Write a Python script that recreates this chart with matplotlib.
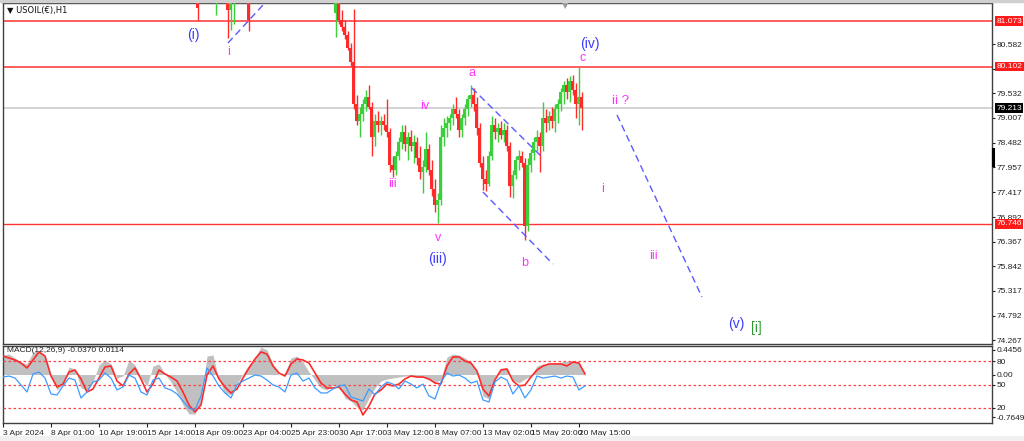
import matplotlib
matplotlib.use("Agg")
import matplotlib.pyplot as plt
import matplotlib.transforms as mtransforms
import numpy as np

plt.rcParams["font.family"] = ["Liberation Sans", "DejaVu Sans"]

# ---- price candles (bar index: one step = one candle slot on screen) ----
bar_idx = [65, 71, 75, 76, 77, 82] + list(range(111, 194))
opens = [81.60, 81.75, 81.60, 81.30, 81.65, 81.45,
         81.25, 81.45, 81.10, 80.95, 80.78, 80.50, 80.20, 79.30, 78.95, 79.10,
         79.30, 79.45, 79.25, 78.60, 78.95, 78.85, 78.95, 78.85, 78.70, 78.00,
         77.90, 78.20, 78.50, 78.70, 78.45, 78.60, 78.40, 78.50, 78.15, 77.85,
         77.95, 78.35, 77.90, 77.50, 77.15, 77.25, 78.60, 78.80, 78.90, 79.00,
         79.20, 79.10, 78.75, 79.00, 79.20, 79.40, 79.50, 79.30, 78.80, 78.05,
         77.70, 77.60, 78.20, 78.85, 78.70, 78.80, 78.65, 78.75, 78.40, 77.55,
         77.80, 78.10, 78.20, 78.05, 76.70, 78.00, 78.25, 78.50, 78.60, 78.40,
         79.00, 78.90, 79.05, 78.95, 79.20, 79.30, 79.55, 79.70, 79.55, 79.80,
         79.60, 79.30, 79.45]
highs = [81.90, 82.10, 81.90, 81.80, 81.95, 81.70,
         81.70, 81.60, 81.30, 81.10, 80.85, 80.60, 81.33, 79.50, 79.25, 79.40,
         79.60, 79.70, 79.35, 79.10, 79.15, 79.05, 79.10, 79.40, 78.80, 78.20,
         78.30, 78.60, 78.85, 78.85, 78.70, 78.75, 78.65, 78.60, 78.40, 78.10,
         78.70, 78.45, 78.10, 77.70, 77.40, 78.85, 79.00, 79.05, 79.10, 79.30,
         79.45, 79.20, 79.10, 79.30, 79.50, 79.70, 79.65, 79.45, 78.90, 78.20,
         77.90, 78.30, 79.05, 79.00, 78.90, 78.95, 78.90, 78.85, 78.50, 77.90,
         78.20, 78.32, 78.30, 78.15, 78.15, 78.35, 78.60, 78.75, 78.70, 79.35,
         79.20, 79.15, 79.25, 79.30, 79.40, 79.65, 79.80, 79.85, 79.90, 79.92,
         79.75, 80.10, 79.55]
lows = [81.10, 81.20, 80.72, 80.88, 81.00, 80.85,
        80.73, 81.00, 80.85, 80.70, 80.45, 80.12, 79.20, 78.85, 78.60, 78.95,
        79.15, 79.20, 78.20, 78.40, 78.70, 78.65, 78.75, 78.60, 77.85, 77.75,
        77.80, 78.10, 78.35, 78.30, 78.10, 78.30, 78.05, 78.00, 77.70, 77.40,
        77.85, 77.80, 77.35, 77.00, 76.77, 77.15, 78.40, 78.60, 78.75, 78.85,
        79.00, 78.60, 78.60, 78.85, 79.05, 79.25, 79.15, 78.65, 77.95, 77.47,
        77.45, 77.55, 78.10, 78.55, 78.50, 78.55, 78.50, 78.30, 77.32, 77.30,
        77.70, 77.90, 77.95, 76.40, 76.60, 77.85, 78.10, 78.30, 77.85, 78.30,
        78.70, 78.75, 78.80, 78.70, 78.90, 79.15, 79.30, 79.40, 79.35, 79.50,
        79.00, 78.85, 78.75]
closes = [81.35, 81.95, 81.30, 81.65, 81.80, 81.10,
          81.45, 81.10, 80.95, 80.78, 80.50, 80.20, 79.30, 78.95, 79.10, 79.30,
          79.45, 79.25, 78.60, 78.95, 78.85, 78.95, 78.85, 78.70, 78.00, 77.90,
          78.20, 78.50, 78.70, 78.45, 78.60, 78.40, 78.50, 78.15, 77.85, 77.95,
          78.35, 77.90, 77.50, 77.15, 77.25, 78.60, 78.80, 78.90, 79.00, 79.20,
          79.10, 78.75, 79.00, 79.20, 79.40, 79.50, 79.30, 78.80, 78.05, 77.70,
          77.60, 78.20, 78.85, 78.70, 78.80, 78.65, 78.75, 78.40, 77.55, 77.80,
          78.10, 78.20, 78.05, 76.70, 78.00, 78.25, 78.50, 78.60, 78.40, 79.00,
          78.90, 79.05, 78.95, 79.20, 79.30, 79.55, 79.70, 79.55, 79.80, 79.60,
          79.30, 79.45, 79.21]

# ---- horizontal levels ----
levels = [81.073, 80.102, 76.746]
last_price = 79.213
price_ticks = [80.582, 80.057, 79.532, 79.007, 78.482, 77.957, 77.417,
               76.892, 76.367, 75.842, 75.317, 74.792, 74.267]

# ---- wave count labels: text, bar index, price, colour, size ----
wave_text = ["(i)", "i", "iii", "iv", "v", "(iii)", "a", "b", "c", "(iv)",
             "ii ?", "i", "iii", "(v)", "[i]"]
wave_k = [63.3, 75.3, 129.7, 140.7, 145.0, 144.7, 156.3, 174.0, 193.3, 195.7,
          206.0, 200.0, 216.7, 244.3, 251.0]
wave_p = [80.774, 80.412, 77.598, 79.261, 76.446, 75.998, 79.964, 75.913,
          80.284, 80.583, 79.367, 77.491, 76.062, 74.612, 74.527]
wave_col = ["#3c3cff", "#ff33ff", "#ff33ff", "#ff33ff", "#ff33ff", "#3c3cff",
            "#ff33ff", "#ff33ff", "#ff33ff", "#3c3cff", "#ff33ff", "#ff33ff",
            "#ff33ff", "#3c3cff", "#2f9a2f"]
wave_size = [10, 9, 9, 9, 9, 10, 9, 9, 9, 10, 9.5, 9, 9, 10, 10]

# dashed trend lines: (k0, k1), (p0, p1)
trend_k = [(75.0, 87.3), (156.3, 180.0), (160.0, 183.3), (204.7, 233.0)]
trend_p = [(80.604, 81.457), (79.644, 78.152), (77.427, 75.892), (79.069, 75.188)]

# ---- MACD panel (sampled every second bar) ----
macd_k = np.arange(0, 196, 2)
macd_hist = [0.348, 0.366, 0.295, 0.223, 0.188, 0.402, 0.420, 0.330, -0.009, -0.277,
             -0.170, 0.134, 0.098, -0.241, -0.277, -0.134, 0.170, 0.259, 0.188, -0.063,
             -0.027, 0.259, 0.170, -0.063, -0.205, 0.152, 0.188, 0.009, -0.134, -0.313,
             -0.545, -0.705, -0.705, -0.491, 0.330, 0.348, -0.098, -0.330, -0.366, -0.170,
             0.009, 0.170, 0.295, 0.491, 0.438, 0.188, -0.009, 0.027, 0.295, 0.330,
             0.223, 0.045, -0.098, -0.241, -0.277, -0.188, -0.205, -0.420, -0.473, -0.580,
             -0.634, -0.420, -0.241, -0.116, -0.080, -0.063, -0.045, -0.027, -0.027, -0.045,
             -0.045, -0.098, -0.134, -0.098, 0.313, 0.366, 0.348, 0.295, 0.223, 0.063,
             -0.384, -0.438, -0.045, 0.116, 0.116, -0.098, -0.152, -0.080, -0.027, 0.152,
             0.188, 0.188, 0.188, 0.223, 0.241, 0.241, 0.223, -0.037]
macd_signal = [0.330, 0.295, 0.259, 0.205, 0.116, 0.259, 0.402, 0.330, -0.027, -0.223,
               -0.170, 0.045, 0.080, -0.080, -0.313, -0.259, -0.063, 0.134, 0.152, -0.116,
               -0.205, 0.009, 0.116, -0.080, -0.313, -0.170, 0.080, 0.009, -0.045, -0.116,
               -0.313, -0.545, -0.670, -0.545, -0.009, 0.152, -0.080, -0.223, -0.330, -0.259,
               -0.063, 0.116, 0.277, 0.402, 0.366, 0.152, 0.027, -0.027, 0.188, 0.277,
               0.259, 0.205, 0.027, -0.152, -0.241, -0.241, -0.223, -0.348, -0.455, -0.491,
               -0.723, -0.563, -0.348, -0.277, -0.170, -0.205, -0.170, -0.080, -0.027, -0.045,
               -0.045, -0.080, -0.152, -0.170, 0.152, 0.313, 0.313, 0.241, 0.205, 0.063,
               -0.259, -0.384, -0.098, 0.080, 0.098, -0.116, -0.205, -0.188, -0.045, 0.080,
               0.152, 0.188, 0.188, 0.188, 0.152, 0.223, 0.205, 0.011]
osc_line = [59.7, 61.0, 58.4, 49.4, 40.3, 63.6, 66.2, 58.4, 37.7, 36.4,
            48.1, 58.4, 55.8, 32.5, 40.3, 53.2, 55.8, 64.9, 58.4, 42.9,
            46.8, 62.3, 58.4, 40.3, 36.4, 55.8, 58.4, 45.5, 42.9, 37.7,
            28.6, 19.5, 16.9, 35.1, 71.4, 61.0, 48.1, 39.0, 32.5, 49.4,
            54.5, 58.4, 62.3, 61.0, 55.8, 49.4, 46.8, 40.3, 62.3, 64.9,
            54.5, 58.4, 45.5, 39.0, 39.0, 44.2, 48.1, 49.4, 33.8, 31.2,
            28.6, 44.2, 36.4, 46.8, 53.2, 50.6, 44.2, 54.5, 50.6, 45.5,
            50.6, 35.1, 31.2, 53.2, 64.9, 61.0, 62.3, 58.4, 51.9, 54.5,
            29.9, 27.3, 53.2, 59.7, 55.8, 37.7, 48.1, 32.5, 42.9, 61.0,
            58.4, 59.7, 61.0, 58.4, 61.0, 59.7, 42.9, 48.1]
osc_levels = [80, 50, 20]

date_k = np.arange(0, 193, 16)
date_labels = ["3 Apr 2024", "8 Apr 01:00", "10 Apr 19:00", "15 Apr 14:00",
               "18 Apr 09:00", "23 Apr 04:00", "25 Apr 23:00", "30 Apr 17:00",
               "3 May 12:00", "8 May 07:00", "13 May 02:00", "15 May 20:00",
               "20 May 15:00"]

W, H = 1024, 441
fig = plt.figure(figsize=(W / 100, H / 100), dpi=100)
fig.patch.set_facecolor("white")
ax = fig.add_axes([3 / W, 1 - 344 / H, 989 / W, 341 / H])
axm = fig.add_axes([3 / W, 1 - 423 / H, 989 / W, 77 / H])
xmax = 329.7
frame = "#404040"
small = 6
txt = "#222222"
tick_kw = dict(labelsize=small, length=2.5, pad=0.8, colors=txt, width=0.8)

# candles
o = np.array(opens); c = np.array(closes)
up = c >= o
col = np.where(up, "#3ccf3c", "#ff2a2a")
ax.vlines(bar_idx, lows, highs, colors=col, lw=1.0, zorder=3)
ax.bar(bar_idx, np.maximum(np.abs(c - o), 0.02), bottom=np.minimum(o, c),
       width=1.0, color=col, edgecolor="none", zorder=3)

for lv in levels[:2]:
    ax.axhline(lv, color="#ff5c5c", lw=1.4, zorder=2)
ax.axhline(levels[2], color="#ff3333", lw=1.0, zorder=2)
ax.axhline(last_price, color="#cccccc", lw=1.2, zorder=1)

for (k0, k1), (p0, p1) in zip(trend_k, trend_p):
    ax.plot([k0, k1], [p0, p1], color="#5a5aff", lw=1.0, ls=(0, (5, 3)), zorder=4)

for t, k, p, cl, s in zip(wave_text, wave_k, wave_p, wave_col, wave_size):
    ax.text(k, p, t, color=cl, fontsize=s, ha="center", va="center", zorder=5)

ax.set_xlim(0, xmax)
ax.set_ylim(74.186, 81.457)
ax.set_xticks([])
ax.yaxis.tick_right()
ax.set_yticks(price_ticks)
ax.set_yticklabels([f"{v:.3f}" for v in price_ticks])
ax.tick_params(axis="y", direction="out", **tick_kw)
for sp in ax.spines.values():
    sp.set_color(frame)
    sp.set_linewidth(1.0)

# price boxes on the right scale
tr = mtransforms.blended_transform_factory(ax.transAxes, ax.transData)
for lv in levels:
    ax.text(1.0045, lv, f"{lv:.3f}", transform=tr, fontsize=small, color="white",
            va="center", ha="left", clip_on=False, zorder=6,
            bbox=dict(boxstyle="square,pad=0.15", fc="#ff1a1a", ec="none"))
ax.text(1.0045, last_price, f"{last_price:.3f}", transform=tr, fontsize=small,
        color="white", va="center", ha="left", clip_on=False, zorder=6,
        bbox=dict(boxstyle="square,pad=0.15", fc="#000000", ec="none"))
ax.plot([1.001, 1.001], [78.35, 78.0], transform=tr, color="black", lw=2.2,
        clip_on=False, zorder=6)
ax.text(4 / 989, 1 - 7 / 341, "\u25bc USOIL(\u20ac),H1", transform=ax.transAxes,
        fontsize=small, va="center", ha="left", color="#111111",
        family=["DejaVu Sans"])
ax.text(562 / 989, 1 - 3 / 341, "\u25bc", transform=ax.transAxes, fontsize=6,
        va="center", ha="center", color="#9a9a9a", clip_on=False,
        family=["DejaVu Sans"])

# MACD panel
axm.fill_between(macd_k, 0, macd_hist, color="#c0c0c0", lw=0, zorder=1)
axm.plot(macd_k, macd_signal, color="#ff2a2a", lw=1.2, zorder=3)
axm.set_xlim(0, xmax)
axm.set_ylim(-0.866, 0.509)
axm.set_xticks(date_k)
axm.set_xticklabels(date_labels)
for lab in axm.get_xticklabels():
    lab.set_horizontalalignment("left")
axm.tick_params(axis="x", labelsize=small, length=3, pad=2, colors=txt, width=0.8)
for sp in axm.spines.values():
    sp.set_color(frame)
    sp.set_linewidth(1.0)

axo = axm.twinx()
axo.set_ylim(0, 100)
for lv in osc_levels:
    axo.axhline(lv, color="#ff4040", lw=0.9, ls=(0, (2, 2)), zorder=1)
axo.plot(macd_k, osc_line, color="#3d9bff", lw=0.9, zorder=2)
axo.set_yticks(osc_levels)
axo.set_yticklabels([str(v) for v in osc_levels])
axo.tick_params(axis="y", **tick_kw)
for sp in axo.spines.values():
    sp.set_visible(False)

# twinx moved the MACD scale to the left, put it back on the right
axm.yaxis.tick_right()
axm.set_yticks([0.4456, 0.0, -0.7649])
axm.set_yticklabels(["0.4456", "0.00", "-0.7649"])
axm.tick_params(axis="y", **tick_kw)
axm.text(4 / 989, 1 - 5 / 77, "MACD(12,26,9) -0.0370 0.0114",
         transform=axm.transAxes, fontsize=small, va="center", ha="left",
         color=txt, zorder=5)

# window chrome strips
fig.patches.append(plt.Rectangle((0, 1 - 2 / H), 1, 2 / H, transform=fig.transFigure,
                                 color="#d0d0d0", zorder=0))
fig.patches.append(plt.Rectangle((0, 0), 1, 5 / H, transform=fig.transFigure,
                                 color="#f0f0f0", zorder=0))

fig.savefig("out.png", dpi=100)
